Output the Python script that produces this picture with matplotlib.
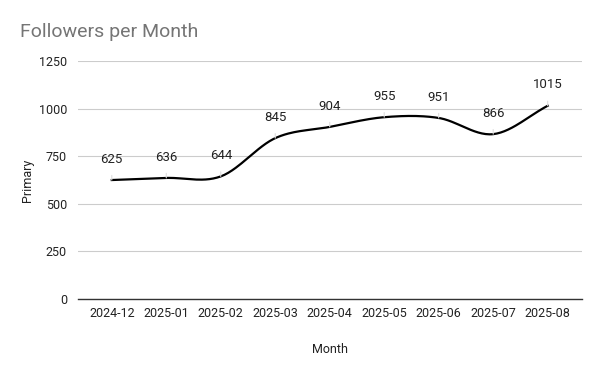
import numpy as np
import matplotlib
matplotlib.use('Agg')
import matplotlib.pyplot as plt

# chart data
months = ['2024-12', '2025-01', '2025-02', '2025-03', '2025-04',
          '2025-05', '2025-06', '2025-07', '2025-08']
followers = [625, 636, 644, 845, 904, 955, 951, 866, 1015]

plt.rcParams['font.family'] = ['Roboto', 'DejaVu Sans']


def smooth(y, n=30):
    '''
    Cardinal spline through the points, only for drawing the curve
    '''
    y = np.asarray(y, dtype=float)
    x = np.arange(len(y), dtype=float)
    m = np.gradient(y)
    xs, ys = [], []
    for i in range(len(y) - 1):
        t = np.linspace(0, 1, n)
        h00 = 2*t**3 - 3*t**2 + 1
        h10 = t**3 - 2*t**2 + t
        h01 = -2*t**3 + 3*t**2
        h11 = t**3 - t**2
        xs.append(x[i] + t)
        ys.append(h00*y[i] + h10*m[i] + h01*y[i+1] + h11*m[i+1])
    return np.concatenate(xs), np.concatenate(ys)


fig = plt.figure(figsize=(6, 3.71), dpi=100)
ax = fig.add_axes([0.13, 0.194, 0.84, 0.6415])

x_idx = np.arange(len(months))
sx, sy = smooth(followers)
ax.plot(sx, sy, color='black', linewidth=1.6, zorder=3)

# data labels with thin leader lines
for i, v in enumerate(followers):
    ax.annotate(str(v), xy=(i, v), xytext=(0, 15), textcoords='offset points',
                ha='center', va='center', fontsize=9.5, color='#222222',
                arrowprops=dict(arrowstyle='-', color='#dddddd', lw=0.8,
                                shrinkA=5, shrinkB=0), zorder=4)

ax.set_xlim(-0.62, 8.63)
ax.set_ylim(0, 1250)
ax.set_yticks([0, 250, 500, 750, 1000, 1250])
ax.set_xticks(x_idx)
ax.set_xticklabels(months)
ax.tick_params(axis='both', length=0, labelsize=9, colors='#222222')
ax.tick_params(axis='y', pad=8)
ax.tick_params(axis='x', pad=6)

ax.grid(axis='y', color='#cccccc', linewidth=0.8)
ax.set_axisbelow(True)
for side in ['top', 'right', 'left']:
    ax.spines[side].set_visible(False)
ax.spines['bottom'].set_color('#333333')
ax.spines['bottom'].set_linewidth(1.0)

ax.set_xlabel('Month', fontsize=9, color='#222222', labelpad=16)
ax.set_ylabel('Primary', fontsize=9, color='#222222', labelpad=3)

fig.text(0.033, 0.915, 'Followers per Month', fontsize=14, color='#757575',
         ha='left', va='center')

fig.savefig('out.png', dpi=100)
